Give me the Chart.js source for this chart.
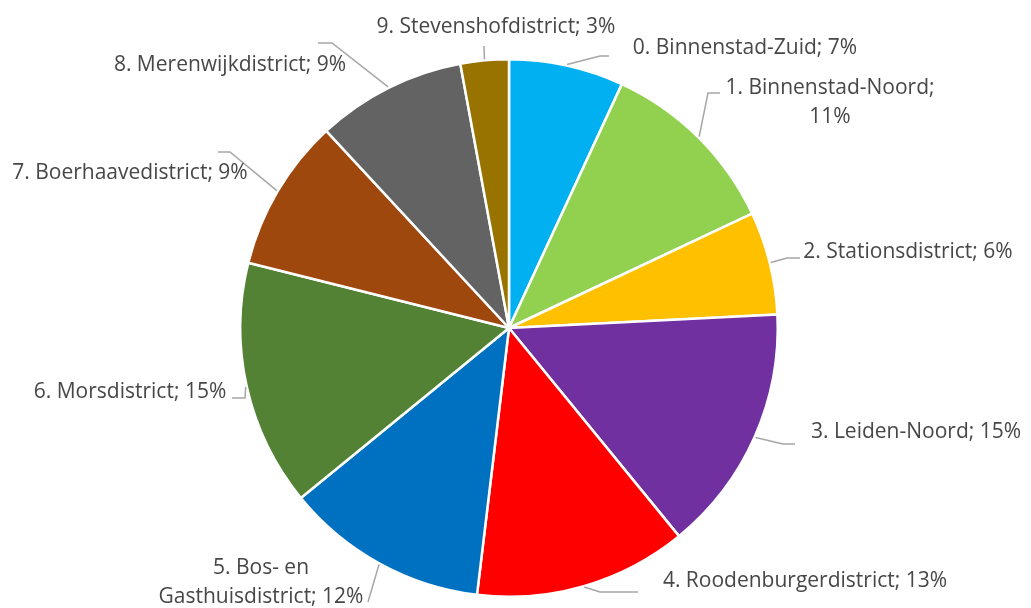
<!DOCTYPE html>
<html>
<head>
<meta charset="utf-8">
<script src="https://cdn.jsdelivr.net/npm/chart.js@4/dist/chart.umd.min.js"></script>
<style>
    body { margin: 0; background: #ffffff; }
    #chart { display: block; }
</style>
</head>
<body>
<canvas id="chart" width="1031" height="608"></canvas>
<script>
    // Data
    const districts = [
        "0. Binnenstad-Zuid",
        "1. Binnenstad-Noord",
        "2. Stationsdistrict",
        "3. Leiden-Noord",
        "4. Roodenburgerdistrict",
        "5. Bos- en Gasthuisdistrict",
        "6. Morsdistrict",
        "7. Boerhaavedistrict",
        "8. Merenwijkdistrict",
        "9. Stevenshofdistrict"
    ];
    const shares = [6.9, 11.1, 6.2, 14.9, 12.8, 12.2, 14.8, 9.2, 9.0, 2.9];
    const sliceColors = ["#00B0F0", "#92D050", "#FFC000", "#7030A0", "#FF0000",
        "#0070C0", "#548235", "#9E480E", "#636363", "#997300"];

    // Label layout: centre x, first-line y, leader bends
    const labelLayout = [
        { x: 745, y: 48,  leader: [[600, 56], [609, 56]] },
        { x: 830, y: 88,  leader: [[708, 93], [720, 93]] },
        { x: 908, y: 252, leader: [[787, 258], [800, 258]] },
        { x: 916, y: 432, leader: [[783, 444], [795, 444]] },
        { x: 805, y: 581, leader: [[600, 592], [638, 592]] },
        { x: 261, y: 568, leader: [[368, 602]] },
        { x: 130, y: 392, leader: [[245, 398], [232, 398]] },
        { x: 130, y: 173, leader: [[230, 152], [218, 152]] },
        { x: 230, y: 65,  leader: [[332, 43], [318, 43]] },
        { x: 496, y: 27,  leader: [[484, 46]] }
    ];

    const total = shares.reduce((a, b) => a + b, 0);

    function labelLines(i) {
        const pct = Math.round(shares[i] / total * 100) + "%";
        if (i === 1) return [districts[i] + ";", pct];
        if (i === 5) return ["5. Bos- en", "Gasthuisdistrict; " + pct];
        return [districts[i] + "; " + pct];
    }

    const outsideLabels = {
        id: "outsideLabels",
        afterDatasetsDraw(chart) {
            const ctx = chart.ctx;
            const meta = chart.getDatasetMeta(0);
            ctx.save();
            meta.data.forEach((arc, i) => {
                const p = arc.getProps(["x", "y", "startAngle", "endAngle", "outerRadius"], true);
                const mid = (p.startAngle + p.endAngle) / 2;
                const r = p.outerRadius + 1;
                const sx = p.x + Math.cos(mid) * r;
                const sy = p.y + Math.sin(mid) * r;
                const lay = labelLayout[i];

                ctx.strokeStyle = "#A6A6A6";
                ctx.lineWidth = 1.5;
                ctx.beginPath();
                ctx.moveTo(sx, sy);
                lay.leader.forEach(pt => ctx.lineTo(pt[0], pt[1]));
                ctx.stroke();

                ctx.fillStyle = "#474747";
                ctx.font = "21px 'Open Sans'";
                ctx.textAlign = "center";
                ctx.textBaseline = "middle";
                labelLines(i).forEach((line, k) => {
                    ctx.fillText(line, lay.x, lay.y + k * 29);
                });
            });
            ctx.restore();
        }
    };

    new Chart(document.getElementById("chart").getContext("2d"), {
        type: "pie",
        data: {
            labels: districts,
            datasets: [{
                data: shares,
                backgroundColor: sliceColors,
                borderColor: "#FFFFFF",
                borderWidth: 2.5
            }]
        },
        options: {
            responsive: false,
            animation: false,
            layout: { padding: { left: 239, right: 252, top: 58, bottom: 10 } },
            plugins: {
                legend: { display: false },
                tooltip: { enabled: false }
            }
        },
        plugins: [outsideLabels]
    });
</script>
</body>
</html>
